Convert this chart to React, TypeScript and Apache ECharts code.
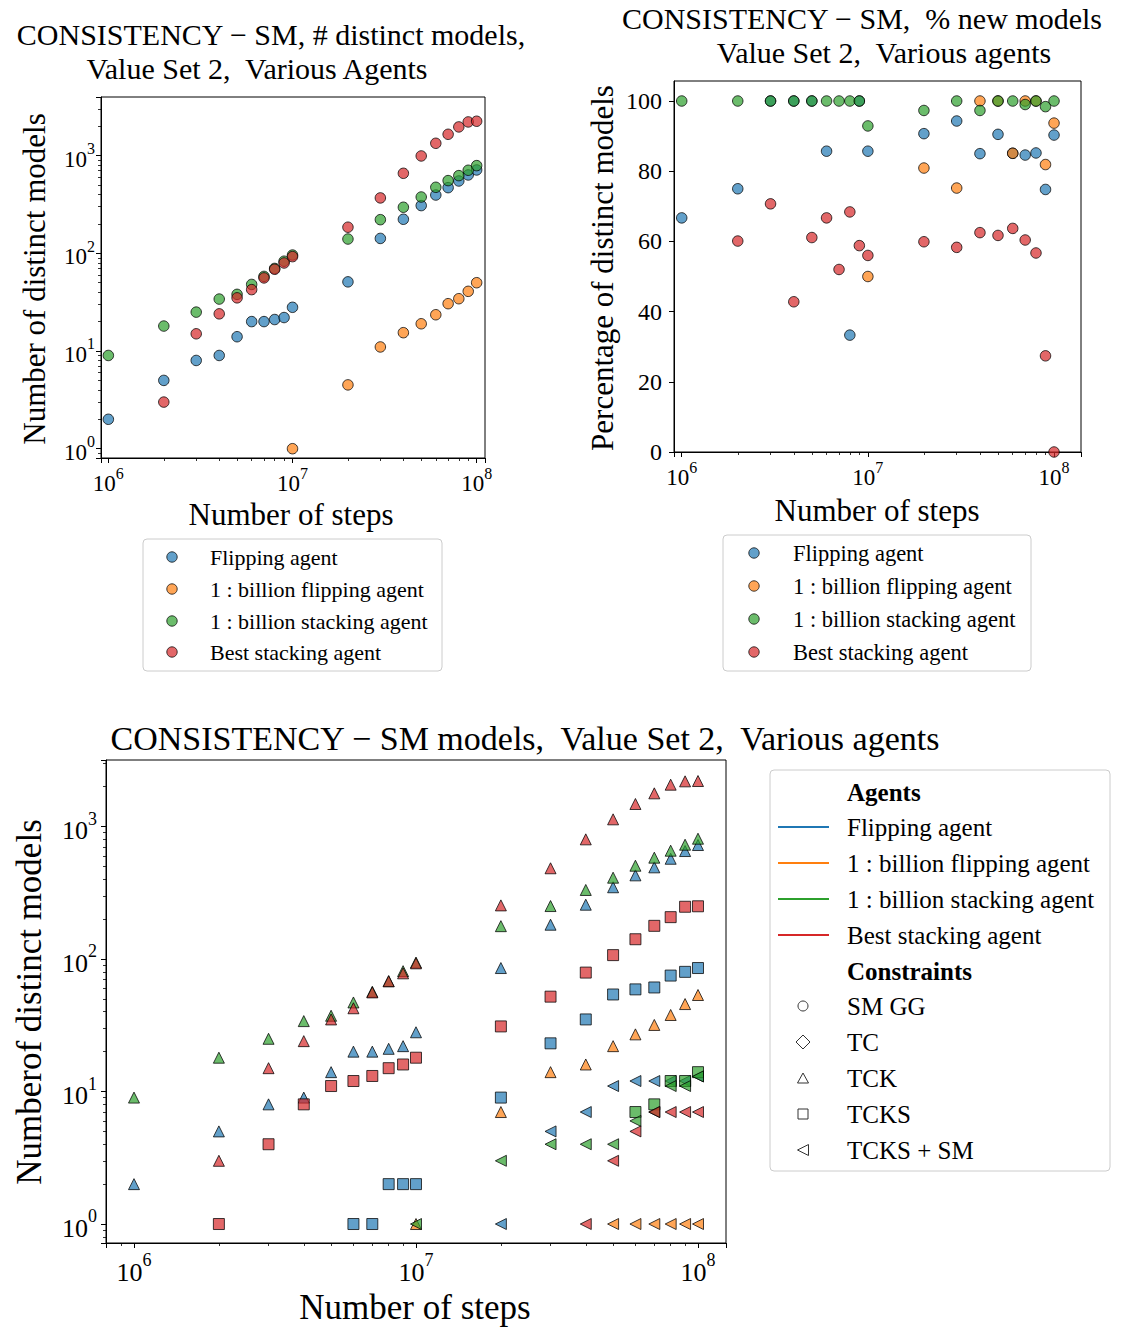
import React, { useEffect, useRef } from 'react';
import * as echarts from 'echarts';

const FONT = '"Liberation Serif", "DejaVu Serif", serif';

const steps = [1e6, 2e6, 3e6, 4e6, 5e6, 6e6, 7e6, 8e6, 9e6, 1e7, 2e7, 3e7, 4e7, 5e7, 6e7, 7e7, 8e7, 9e7, 1e8];

const agents = ['Flipping agent', '1 : billion flipping agent', '1 : billion stacking agent', 'Best stacking agent'];
const agentColors = ['#1f77b4', '#ff7f0e', '#2ca02c', '#d62728'];
const constraints = ['SM GG', 'TC', 'TCK', 'TCKS', 'TCKS + SM'];

const _ = null;

// Top-left: number of distinct models
const tlFlipping = [2, 5, 8, 9, 14, 20, 20, 21, 22, 28, 51, 142, 223, 308, 395, 470, 550, 634, 713];
const tlBillionFlipping = [_, _, _, _, _, _, _, _, _, 1, 4.5, 11, 15.4, 19, 23.5, 30.5, 34.3, 40.8, 50];
const tlBillionStacking = [9, 18, 25, 34, 38, 48, 58, 70, 83, 96, 140, 221, 296, 377, 474, 555, 624, 708, 790];
const tlBestStacking = [_, 3, 15, 24, 35, 42.5, 56, 68.6, 79.6, 92.5, 185, 369, 659, 992, 1337, 1653, 1967, 2212, 2248];

// Top-right: % new models
const trFlipping = [66.7, 75.0, 100, 100, 100, 85.7, _, 33.3, 100, 85.7, 90.7, 94.3, 85.0, 90.5, 85.1, 84.6, 85.2, 74.8, 90.3];
const trBillionFlipping = [_, _, _, _, _, _, _, _, _, 50.0, 80.9, 75.2, 100, 100, 85.1, 100, 100, 81.9, 93.7];
const trBillionStacking = [100, 100, 100, 100, 100, 100, 100, 100, 100, 92.9, 97.3, 100, 97.3, 100, 100, 99.0, 100, 98.4, 100];
const trBestStacking = [_, 60.1, 70.7, 42.8, 61.1, 66.7, 52.0, 68.4, 58.8, 56.0, 59.9, 58.3, 62.5, 61.7, 63.7, 60.4, 56.7, 27.4, 0];

// Bottom: TCK
const tckFlipping = [2, 5, 8, 9, 14, 20, 20, 21, 22, 28, 85.5, 181.5, 257, 348, 428, 492, 571, 653, 725];
const tckBillionFlipping = [_, _, _, _, _, _, _, _, _, 1, 7, 14, 16, 22, 27, 31.8, 37.8, 45.7, 53.5];
const tckBillionStacking = [9, 18, 25, 34, 37.3, 47, 56.6, 68, 81, 94, 177, 251, 332, 411, 506, 582, 657, 729, 809];
const tckBestStacking = [_, 3, 15, 24, 35, 42.5, 56, 68, 78, 92.8, 254, 484, 800, 1133, 1479, 1780, 2069, 2193, 2205];
// Bottom: TCKS
const tcksFlipping = [_, _, _, _, _, 1, 1, 2, 2, 2, 9, 23.1, 35, 54, 59, 61, 75, 80, 85.5];
const tcksBillionFlipping = [_, _, _, _, _, _, _, _, _, _, _, _, _, _, _, _, _, _, _];
const tcksBillionStacking = [_, _, _, _, _, _, _, _, _, _, _, _, _, _, 7, 8, 12, 12, 14];
const tcksBestStacking = [_, 1, 4, 8, 11, 12, 13.1, 15, 16, 18, 31, 52, 79, 107, 141, 178, 207, 248, 250];
// Bottom: TCKS + SM
const smFlipping = [_, _, _, _, _, _, _, _, _, _, 1, 5, 7, 11, 12, 12, 12, 12, 13];
const smBillionFlipping = [_, _, _, _, _, _, _, _, _, _, _, _, _, 1, 1, 1, 1, 1, 1];
const smBillionStacking = [_, _, _, _, _, _, _, _, _, 1, 3, 4, 4, 4, 6, 7, 11, 11, 13];
const smBestStacking = [_, _, _, _, _, _, _, _, _, _, _, _, 1, 3, 5, 7, 7, 7, 7];

const rgba = (hex: string, a: number) => {
  const n = parseInt(hex.slice(1), 16);
  return `rgba(${(n >> 16) & 255},${(n >> 8) & 255},${n & 255},${a})`;
};
const EDGE = 'rgba(0,0,0,0.75)';
const LEFT_TRI = 'path://M0,5L10,0L10,10Z';

const toPts = (vals: (number | null)[]) =>
  steps.map((s, i) => (vals[i] == null ? null : [s, vals[i] as number])).filter((d) => d !== null);

const mk = (vals: (number | null)[], agentIdx: number, gi: number, symbol: string, size: number) => ({
  type: 'scatter',
  name: agents[agentIdx],
  xAxisIndex: gi,
  yAxisIndex: gi,
  symbol,
  symbolSize: size,
  data: toPts(vals),
  itemStyle: { color: rgba(agentColors[agentIdx], 0.7), borderColor: EDGE, borderWidth: 1, opacity: 1 },
  emphasis: { disabled: true },
  silent: true,
});

const supLabel = (fs: number, margin: number) => ({
  margin,
  showMinLabel: false,
  showMaxLabel: false,
  formatter: (v: number) => `{b|10}{s|${Math.round(Math.log10(v))}}`,
  rich: {
    b: { fontSize: fs, fontFamily: FONT, color: '#000', lineHeight: Math.round(fs * 1.3), verticalAlign: 'bottom' },
    s: { fontSize: Math.round(fs * 0.7), fontFamily: FONT, color: '#000', verticalAlign: 'top' },
  },
});

const axisCommon = {
  axisLine: { show: true, onZero: false, lineStyle: { color: '#000', width: 1 } },
  axisTick: { show: true, length: 5, lineStyle: { color: '#000', width: 1 } },
  splitLine: { show: false },
  minorSplitLine: { show: false },
};
const minor = { show: true, splitNumber: 9, length: 3, lineStyle: { color: '#000', width: 0.8 } };

const logAxis = (gi: number, min: number, max: number, fs: number, margin: number) => ({
  type: 'log',
  logBase: 10,
  gridIndex: gi,
  min,
  max,
  ...axisCommon,
  minorTick: minor,
  axisLabel: supLabel(fs, margin),
});

const text = (t: string, x: number, y: number, size: number, opts: any = {}) => ({
  type: 'text',
  x,
  y,
  rotation: opts.rot || 0,
  silent: true,
  z: 10,
  style: {
    text: t,
    font: `${opts.bold ? 'bold ' : ''}${size}px ${FONT}`,
    fill: '#000',
    textAlign: opts.align || 'center',
    textVerticalAlign: 'middle',
  },
});

export default function App() {
  const ref = useRef<HTMLDivElement>(null);
  useEffect(() => {
    if (!ref.current) return;
    const chart = echarts.init(ref.current, null, { renderer: 'svg' });

    const series: any[] = [];
    [tlFlipping, tlBillionFlipping, tlBillionStacking, tlBestStacking].forEach((v, a) =>
      series.push(mk(v, a, 0, 'circle', 10.5))
    );
    [trFlipping, trBillionFlipping, trBillionStacking, trBestStacking].forEach((v, a) =>
      series.push(mk(v, a, 1, 'circle', 10.5))
    );
    const bottom = [
      [tckFlipping, tcksFlipping, smFlipping],
      [tckBillionFlipping, tcksBillionFlipping, smBillionFlipping],
      [tckBillionStacking, tcksBillionStacking, smBillionStacking],
      [tckBestStacking, tcksBestStacking, smBestStacking],
    ];
    const bSymbols = ['triangle', 'rect', LEFT_TRI];
    bottom.forEach((group, a) =>
      group.forEach((v, c) => {
        if (v.some((x) => x != null)) series.push(mk(v, a, 2, bSymbols[c], 11));
      })
    );

    const gridBase = { show: true, borderColor: '#000', borderWidth: 1, backgroundColor: 'transparent', containLabel: false, outerBoundsMode: 'none' };

    const graphic: any[] = [];
    // Titles
    graphic.push(text('CONSISTENCY \u2212 SM, # distinct models,', 271, 34, 30));
    graphic.push(text('Value Set 2,  Various Agents', 257, 68, 30));
    graphic.push(text('CONSISTENCY \u2212 SM,  % new models', 862, 18, 30));
    graphic.push(text('Value Set 2,  Various agents', 884, 52, 30));
    graphic.push(text('CONSISTENCY \u2212 SM models,  Value Set 2,  Various agents', 525, 738, 34));
    // Axis names
    graphic.push(text('Number of distinct models', 34, 279, 31, { rot: Math.PI / 2 }));
    graphic.push(text('Number of steps', 291, 514, 31));
    graphic.push(text('Percentage of distinct models', 602, 268, 31, { rot: Math.PI / 2 }));
    graphic.push(text('Number of steps', 877, 510, 31));
    graphic.push(text('Numberof distinct models', 29, 1002, 35, { rot: Math.PI / 2 }));
    graphic.push(text('Number of steps', 415, 1307, 35));

    // Top-left legend
    graphic.push({ type: 'rect', shape: { x: 143, y: 539, width: 299, height: 132, r: 4 }, style: { fill: '#fff', stroke: '#cccccc', lineWidth: 1 }, silent: true });
    [557, 589, 621, 652].forEach((y, i) => {
      graphic.push({ type: 'circle', shape: { cx: 172, cy: y, r: 5.2 }, style: { fill: rgba(agentColors[i], 0.7), stroke: EDGE, lineWidth: 1 }, silent: true, z: 10 });
      graphic.push(text(agents[i], 210, y, 22, { align: 'left' }));
    });
    // Top-right legend
    graphic.push({ type: 'rect', shape: { x: 723, y: 535, width: 308, height: 136, r: 4 }, style: { fill: '#fff', stroke: '#cccccc', lineWidth: 1 }, silent: true });
    [553, 586, 619, 652].forEach((y, i) => {
      graphic.push({ type: 'circle', shape: { cx: 754, cy: y, r: 5.2 }, style: { fill: rgba(agentColors[i], 0.7), stroke: EDGE, lineWidth: 1 }, silent: true, z: 10 });
      graphic.push(text(agents[i], 793, y, 22.5, { align: 'left' }));
    });
    // Bottom legend
    graphic.push({ type: 'rect', shape: { x: 770, y: 770, width: 340, height: 401, r: 4 }, style: { fill: '#fff', stroke: '#cccccc', lineWidth: 1 }, silent: true });
    graphic.push(text('Agents', 847, 792, 25, { align: 'left', bold: true }));
    [827, 863, 899, 935].forEach((y, i) => {
      graphic.push({ type: 'line', shape: { x1: 778, y1: y, x2: 829, y2: y }, style: { stroke: agentColors[i], lineWidth: 2 }, silent: true, z: 10 });
      graphic.push(text(agents[i], 847, y, 25, { align: 'left' }));
    });
    graphic.push(text('Constraints', 847, 971, 25, { align: 'left', bold: true }));
    const cy = [1006, 1042, 1078, 1114, 1150];
    const mStyle = { fill: 'none', stroke: '#333', lineWidth: 1 };
    graphic.push({ type: 'circle', shape: { cx: 803, cy: cy[0], r: 5 }, style: mStyle, silent: true, z: 10 });
    graphic.push({ type: 'polygon', shape: { points: [[803, cy[1] - 7], [810, cy[1]], [803, cy[1] + 7], [796, cy[1]]] }, style: mStyle, silent: true, z: 10 });
    graphic.push({ type: 'polygon', shape: { points: [[803, cy[2] - 5], [808.5, cy[2] + 5], [797.5, cy[2] + 5]] }, style: mStyle, silent: true, z: 10 });
    graphic.push({ type: 'rect', shape: { x: 798, y: cy[3] - 5, width: 10, height: 10 }, style: mStyle, silent: true, z: 10 });
    graphic.push({ type: 'polygon', shape: { points: [[797.5, cy[4]], [808.5, cy[4] - 5.5], [808.5, cy[4] + 5.5]] }, style: mStyle, silent: true, z: 10 });
    constraints.forEach((c, i) => graphic.push(text(c, 847, cy[i], 25, { align: 'left' })));

    chart.setOption({
      animation: false,
      backgroundColor: '#fff',
      textStyle: { fontFamily: FONT },
      grid: [
        { ...gridBase, left: 101, top: 97, width: 384, height: 361 },
        { ...gridBase, left: 674, top: 81, width: 407, height: 371 },
        { ...gridBase, left: 106, top: 760, width: 620, height: 483 },
      ],
      xAxis: [
        logAxis(0, 912000, 1.11e8, 23, 7),
        logAxis(1, 909000, 1.396e8, 23, 7),
        logAxis(2, 795700, 1.257e8, 26, 8),
      ],
      yAxis: [
        logAxis(0, 0.803, 3981, 23, 6),
        {
          type: 'value',
          gridIndex: 1,
          min: 0,
          max: 105.7,
          interval: 20,
          ...axisCommon,
          axisLabel: { margin: 12, fontSize: 24, fontFamily: FONT, color: '#000', showMaxLabel: false },
        },
        logAxis(2, 0.719, 3177, 26, 9),
      ],
      series,
      graphic,
    } as any);
    return () => chart.dispose();
  }, []);
  return <div ref={ref} style={{ position: 'absolute', left: 0, top: 0, width: 1123, height: 1327 }} />;
}
